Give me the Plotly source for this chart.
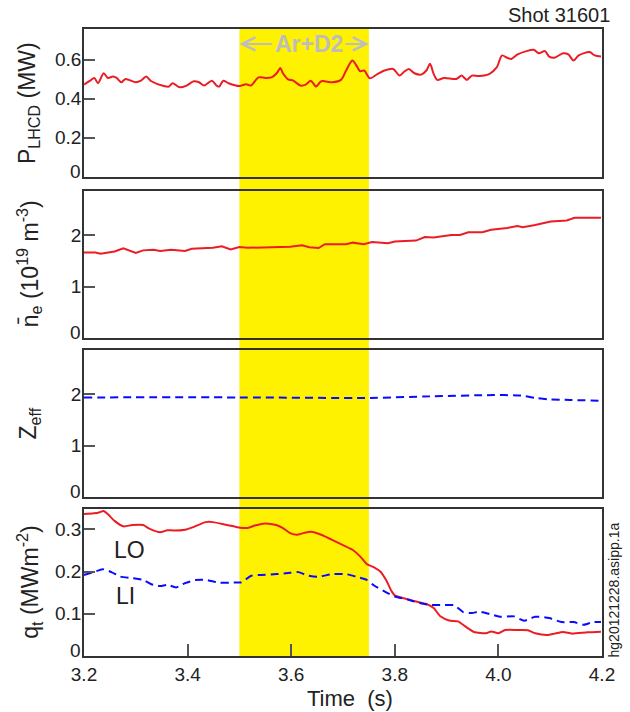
import plotly.graph_objects as go

# ---------------- data ----------------
t_plh = [3.200,3.212,3.220,3.227,3.238,3.246,3.256,3.263,3.272,3.280,
         3.300,3.310,3.320,3.330,3.354,3.364,3.371,3.385,3.398,3.412,
         3.422,3.432,3.447,3.456,3.461,3.469,3.479,3.500,3.513,3.522,
         3.537,3.550,3.562,3.572,3.579,3.584,3.594,3.604,3.618,3.628,
         3.638,3.648,3.658,3.679,3.696,3.706,3.718,3.726,3.733,3.741,
         3.752,3.767,3.780,3.797,3.809,3.817,3.827,3.838,3.851,3.861,
         3.868,3.875,3.882,3.895,3.919,3.929,3.939,3.949,3.963,3.983,
         3.997,4.007,4.017,4.025,4.037,4.054,4.068,4.078,4.090,4.098,
         4.108,4.125,4.135,4.145,4.155,4.176,4.186,4.198]
p_lhcd = [0.472,0.492,0.506,0.479,0.530,0.506,0.513,0.506,0.484,0.501,
          0.484,0.492,0.513,0.489,0.465,0.462,0.479,0.458,0.467,0.489,
          0.484,0.467,0.492,0.467,0.462,0.492,0.479,0.465,0.474,0.467,
          0.509,0.506,0.509,0.530,0.557,0.530,0.499,0.492,0.467,0.472,
          0.492,0.462,0.489,0.484,0.496,0.544,0.595,0.569,0.540,0.544,
          0.504,0.527,0.544,0.552,0.518,0.535,0.552,0.530,0.523,0.544,
          0.578,0.527,0.496,0.506,0.501,0.518,0.496,0.518,0.516,0.527,
          0.561,0.621,0.609,0.603,0.626,0.643,0.650,0.632,0.643,0.615,
          0.609,0.632,0.626,0.595,0.621,0.638,0.621,0.615]

t_ne = [3.200,3.222,3.232,3.259,3.276,3.300,3.314,3.334,3.347,3.368,
        3.395,3.408,3.449,3.466,3.483,3.500,3.516,3.557,3.598,3.621,
        3.635,3.653,3.665,3.706,3.719,3.740,3.756,3.787,3.800,3.841,
        3.858,3.875,3.909,3.926,3.942,3.969,3.986,4.017,4.037,4.047,
        4.071,4.101,4.132,4.147,4.172,4.186,4.198]
ne = [1.66,1.66,1.635,1.68,1.74,1.65,1.70,1.71,1.69,1.71,
      1.69,1.73,1.75,1.78,1.72,1.765,1.75,1.765,1.77,1.80,
      1.76,1.745,1.82,1.82,1.85,1.82,1.86,1.84,1.87,1.89,
      1.96,1.95,2.00,2.00,2.05,2.05,2.10,2.135,2.17,2.15,
      2.19,2.26,2.28,2.33,2.33,2.32,2.33]

t_zeff = [3.200,3.497,3.753,3.868,3.990,4.044,4.071,4.098,4.138,4.198]
zeff = [1.94,1.94,1.93,1.96,1.985,1.975,1.93,1.90,1.89,1.875]

t_lo = [3.200,3.219,3.229,3.238,3.246,3.259,3.276,3.293,3.314,3.327,
        3.347,3.361,3.374,3.395,3.408,3.435,3.449,3.476,3.496,3.516,
        3.530,3.550,3.571,3.584,3.598,3.611,3.625,3.638,3.658,3.679,
        3.699,3.719,3.733,3.746,3.760,3.773,3.784,3.794,3.800,3.821,
        3.841,3.861,3.875,3.888,3.905,3.922,3.936,3.953,3.976,3.986,
        4.000,4.013,4.037,4.057,4.071,4.095,4.108,4.125,4.142,4.172,4.198]
q_lo = [0.336,0.338,0.340,0.3435,0.336,0.320,0.307,0.310,0.310,0.301,
        0.293,0.298,0.297,0.299,0.304,0.317,0.317,0.310,0.305,0.303,
        0.309,0.314,0.310,0.303,0.291,0.287,0.2915,0.294,0.287,0.275,
        0.263,0.251,0.236,0.2175,0.210,0.199,0.178,0.153,0.1435,0.1355,
        0.129,0.123,0.1135,0.094,0.084,0.082,0.070,0.057,0.054,0.058,
        0.054,0.0615,0.0615,0.061,0.054,0.050,0.053,0.057,0.053,0.056,0.0575]

t_li = [3.200,3.219,3.236,3.253,3.270,3.293,3.314,3.330,3.347,3.361,
        3.378,3.395,3.415,3.435,3.462,3.489,3.503,3.523,3.543,3.571,
        3.598,3.614,3.631,3.652,3.679,3.706,3.726,3.746,3.760,3.780,
        3.800,3.827,3.848,3.868,3.895,3.915,3.932,3.949,3.963,3.983,
        4.003,4.030,4.050,4.071,4.098,4.122,4.145,4.165,4.182,4.198]
q_li = [0.192,0.1986,0.2057,0.1986,0.188,0.1844,0.180,0.170,0.1655,0.1686,
        0.1624,0.1726,0.1797,0.180,0.1733,0.1742,0.1742,0.190,0.192,0.1939,
        0.197,0.1986,0.1908,0.1875,0.1939,0.1939,0.1875,0.180,0.167,0.153,
        0.141,0.133,0.1253,0.121,0.121,0.120,0.104,0.1017,0.105,0.0993,
        0.093,0.0938,0.0835,0.093,0.0898,0.0804,0.0804,0.074,0.0804,0.0804]

puff_window = [3.5, 3.75]
x_ticks = [3.2, 3.4, 3.6, 3.8, 4.0, 4.2]
x_ticktext = ["3.2", "3.4", "3.6", "3.8", "4.0", "4.2"]
# the "0" labels are drawn separately (slightly raised, as in the reference)
p_ticks, p_ticktext = [0, 0.2, 0.4, 0.6], ["", "0.2", "0.4", "0.6"]
n_ticks, n_ticktext = [0, 1, 2], ["", "1", "2"]
z_ticks, z_ticktext = [0, 1, 2], ["", "1", "2"]
q_ticks, q_ticktext = [0, 0.1, 0.2, 0.3], ["", "0.1", "0.2", "0.3"]
zero_label = "0"

# ---------------- styling ----------------
FONT = "Liberation Sans, Arial, Helvetica, sans-serif"
RED = "#ec1c24"
BLUE = "#0a0aff"
FRAME = "#333333"
TICKC = "#555555"
DASH = "8px,5px"

fig = go.Figure()
fig.add_trace(go.Scatter(x=t_plh, y=p_lhcd, mode="lines", xaxis="x", yaxis="y",
                         line=dict(color=RED, width=2, shape="spline", smoothing=0.8)))
fig.add_trace(go.Scatter(x=t_ne, y=ne, mode="lines", xaxis="x2", yaxis="y2",
                         line=dict(color=RED, width=2)))
fig.add_trace(go.Scatter(x=t_zeff, y=zeff, mode="lines", xaxis="x3", yaxis="y3",
                         line=dict(color=BLUE, width=2, dash=DASH, shape="spline", smoothing=0.8)))
fig.add_trace(go.Scatter(x=t_lo, y=q_lo, mode="lines", xaxis="x4", yaxis="y4",
                         line=dict(color=RED, width=2, shape="spline", smoothing=0.6)))
fig.add_trace(go.Scatter(x=t_li, y=q_li, mode="lines", xaxis="x4", yaxis="y4",
                         line=dict(color=BLUE, width=2, dash=DASH, shape="spline", smoothing=0.6)))

domains = [[0.764, 1.0], [0.507, 0.742], [0.254, 0.488], [0.0, 0.2344]]
yranges = [[0, 0.756], [0, 2.855], [0, 2.865], [0, 0.348]]
yticks = [(p_ticks, p_ticktext), (n_ticks, n_ticktext), (z_ticks, z_ticktext), (q_ticks, q_ticktext)]

layout = dict(
    width=630, height=712,
    margin=dict(l=84, r=28, t=29, b=56),
    paper_bgcolor="white", plot_bgcolor="rgba(0,0,0,0)",
    showlegend=False,
    font=dict(family=FONT, size=19, color="#222222"),
)
for i in range(4):
    sx = "" if i == 0 else str(i + 1)
    last = i == 3
    layout["xaxis" + sx] = dict(
        domain=[0, 1], anchor="y" + sx, range=[3.2, 4.2],
        showline=True, mirror=True, linecolor=FRAME, linewidth=1.6,
        showgrid=False, zeroline=False,
        ticks="inside" if last else "", ticklen=12, tickwidth=1.5, tickcolor=TICKC,
        tickvals=x_ticks, ticktext=x_ticktext, showticklabels=last,
        tickfont=dict(size=19, color="#222222"),
    )
    tv, tt = yticks[i]
    layout["yaxis" + sx] = dict(
        domain=domains[i], anchor="x" + sx, range=yranges[i],
        showline=True, mirror=True, linecolor=FRAME, linewidth=1.6,
        showgrid=False, zeroline=False,
        ticks="inside", ticklen=11, tickwidth=1.5, tickcolor=TICKC,
        tickvals=tv, ticktext=tt, ticklabelstandoff=-3,
        tickfont=dict(size=19, color="#222222"),
    )
fig.update_layout(**layout)

# yellow puff window across all panels
fig.add_shape(type="rect", xref="x", yref="paper",
              x0=puff_window[0], x1=puff_window[1], y0=0, y1=1,
              fillcolor="#fff200", line=dict(width=0), layer="below")

ann = []
# raised "0" labels at the bottom of each panel
for i in range(4):
    sx = "" if i == 0 else str(i + 1)
    ann.append(dict(text=zero_label, xref="paper", yref="y" + sx, x=0, y=0,
                    xanchor="right", yanchor="bottom", xshift=-1, yshift=-7,
                    showarrow=False, font=dict(size=19, color="#222222")))
ytitles = [
    ("P<sub>LHCD</sub> (MW)", 0.882),
    ("n\u0304<sub>e</sub> (10<sup>19</sup> m<sup>-3</sup>)", 0.625),
    ("Z<sub>eff</sub>", 0.371),
    ("q<sub>t</sub> (MWm<sup>-2</sup>)", 0.117),
]
for txt, yc in ytitles:
    ann.append(dict(text=txt, xref="paper", yref="paper", x=-0.106, y=yc,
                    xanchor="center", yanchor="middle", textangle=-90,
                    showarrow=False, font=dict(size=23, color="#222222")))
ann.append(dict(text="Time\u00a0\u00a0(s)", xref="paper", yref="paper", x=0.513, y=-0.067,
                xanchor="center", yanchor="middle", showarrow=False,
                font=dict(size=22, color="#222222")))
ann.append(dict(text="Shot 31601", xref="paper", yref="paper", x=1.019, y=1.0225,
                xanchor="right", yanchor="middle", showarrow=False,
                font=dict(size=20, color="#222222")))
ann.append(dict(text="hg20121228.asipp.1a", xref="paper", yref="paper", x=1.023, y=0.106,
                xanchor="center", yanchor="middle", textangle=-90, showarrow=False,
                font=dict(size=14, color="#222222")))
ann.append(dict(text="LO", xref="x4", yref="y4", x=3.255, y=0.251,
                xanchor="left", yanchor="middle", showarrow=False,
                font=dict(size=23, color="#222222")))
ann.append(dict(text="LI", xref="x4", yref="y4", x=3.258, y=0.142,
                xanchor="left", yanchor="middle", showarrow=False,
                font=dict(size=23, color="#222222")))
# Ar+D2 label with arrows spanning the puff window
ann.append(dict(text="<b>Ar+D2</b>", xref="x", yref="y", x=3.634, y=0.68,
                xanchor="center", yanchor="middle", showarrow=False,
                font=dict(size=23, color="#bdbdbd")))
ann.append(dict(text="", xref="x", yref="y", x=puff_window[0], y=0.68,
                axref="x", ayref="y", ax=3.566, ay=0.68, showarrow=True,
                arrowhead=5, arrowsize=1.3, arrowwidth=2, arrowcolor="#bdbdbd"))
ann.append(dict(text="", xref="x", yref="y", x=puff_window[1], y=0.68,
                axref="x", ayref="y", ax=3.702, ay=0.68, showarrow=True,
                arrowhead=5, arrowsize=1.3, arrowwidth=2, arrowcolor="#bdbdbd"))
fig.update_layout(annotations=ann)

fig.write_html("out.html")
